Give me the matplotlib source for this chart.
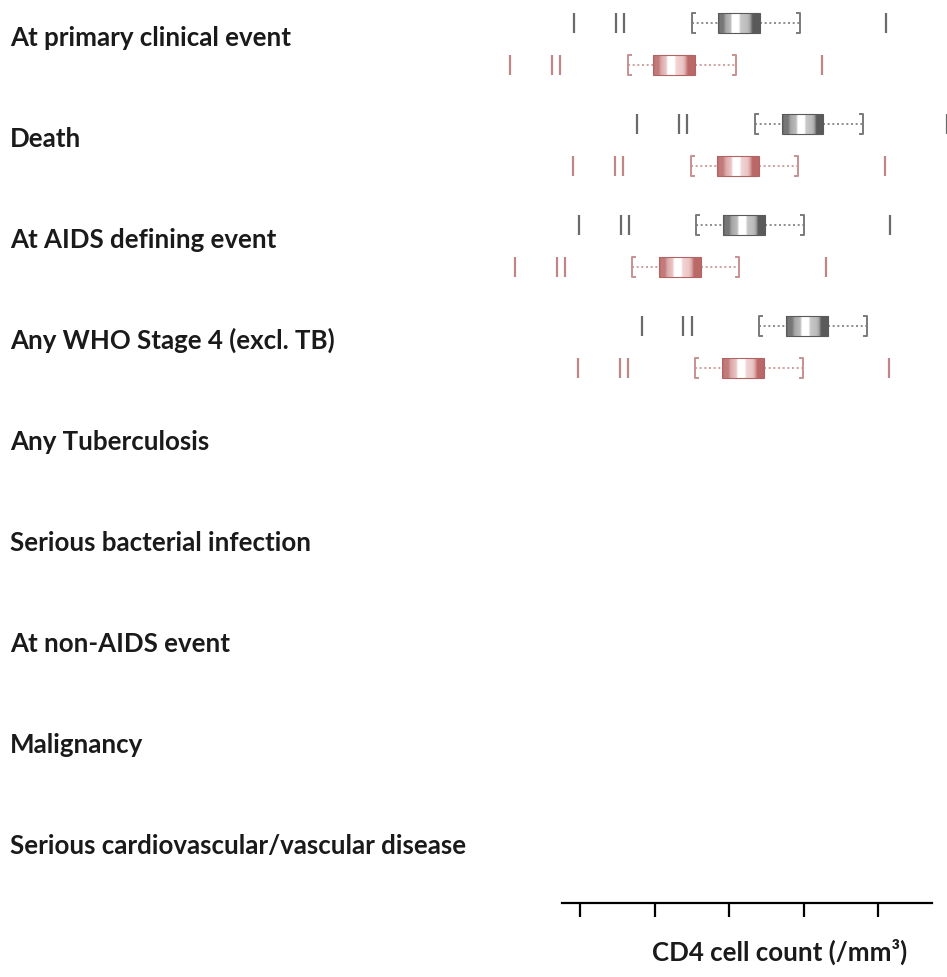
import numpy as np
import matplotlib
matplotlib.use("Agg")
import matplotlib.pyplot as plt
from matplotlib.colors import LinearSegmentedColormap
from matplotlib.patches import Rectangle

categories = [
    "At primary clinical event",
    "Death",
    "At AIDS defining event",
    "Any WHO Stage 4 (excl. TB)",
    "Any Tuberculosis",
    "Serious bacterial infection",
    "At non-AIDS event",
    "Malignancy",
    "Serious cardiovascular/vascular disease",
]

x_ticks = [0, 100, 200, 300, 400]
x_label = "CD4 cell count (/mm³)"

# grey series (upper row of each pair)
grey_low_tick = [-8, 77, -1, 83]
grey_dbl1 = [48, 133, 55, 138]
grey_dbl2 = [59, 144, 66, 150]
grey_whisk_lo = [150, 235, 156, 240]
grey_q1 = [185, 271, 192, 277]
grey_med = [208, 297, 218, 303]
grey_q3 = [241, 326, 248, 333]
grey_whisk_hi = [295, 380, 301, 385]
grey_high_tick = [411, 492, 416, 500]

# red series (lower row of each pair)
red_low_tick = [-94, -9, -87, -3]
red_dbl1 = [-38, 47, -31, 54]
red_dbl2 = [-27, 58, -20, 64]
red_whisk_lo = [64, 149, 70, 154]
red_q1 = [98, 184, 106, 191]
red_med = [122, 210, 131, 217]
red_q3 = [154, 240, 162, 247]
red_whisk_hi = [209, 293, 213, 299]
red_high_tick = [325, 409, 330, 415]

W, H = 947, 978
fig = plt.figure(figsize=(W / 100, H / 100), dpi=100)
ax = fig.add_axes([0, 0, 1, 1])
ax.set_facecolor("white")

# pixel -> data mapping
px0, scale = 580.0, 0.745
ax.set_xlim((0 - px0) / scale, (W - px0) / scale)
row0, rowstep = 38.0, 101.0
ax.set_ylim((H - row0) / rowstep, (0 - row0) / rowstep)

FONT = "Lato"
FS = 18.6

half = 0.098
serif = 4.0


def make_cmap(c_edge, c_dark, c_mid, c_light, c_pale, c_dark2):
    return LinearSegmentedColormap.from_list(
        "g",
        [(0.0, c_edge), (0.04, c_dark), (0.14, c_dark), (0.2, c_mid), (0.33, c_light),
         (0.37, "#ffffff"), (0.53, "#ffffff"), (0.57, c_pale), (0.72, c_light),
         (0.78, c_mid), (0.84, c_dark2), (1.0, c_dark2)],
    )


def draw_series(yoff, low, d1, d2, wl, q1, med, q3, wh, high, tick_c, brk_c, cmap, edge_c):
    for i in range(len(low)):
        y = i + yoff
        for xv in (low[i], d1[i], d2[i], high[i]):
            ax.plot([xv, xv], [y - half, y + half], color=tick_c, lw=1.6,
                    solid_capstyle="butt", zorder=3)
        # brackets
        ax.plot([wl[i] + serif, wl[i], wl[i], wl[i] + serif],
                [y - half, y - half, y + half, y + half], color=brk_c, lw=1.4, zorder=3)
        ax.plot([wh[i] - serif, wh[i], wh[i], wh[i] - serif],
                [y - half, y - half, y + half, y + half], color=brk_c, lw=1.4, zorder=3)
        # dotted whiskers
        ax.plot([wl[i], q1[i]], [y, y], color=brk_c, lw=1.2, ls=(0, (1.2, 1.6)), zorder=2)
        ax.plot([q3[i], wh[i]], [y, y], color=brk_c, lw=1.2, ls=(0, (1.2, 1.6)), zorder=2)
        # gradient box, white stripe at median
        w = q3[i] - q1[i]
        frac_med = (med[i] - q1[i]) / w
        xs = np.linspace(0, 1, 300)
        prof = np.interp(xs, [0, frac_med, 1], [0, 0.45, 1])
        ax.imshow(prof[None, :], cmap=cmap, vmin=0, vmax=1, aspect="auto",
                  extent=(q1[i], q3[i], y + half, y - half),
                  interpolation="bilinear", zorder=4)
        ax.add_patch(Rectangle((q1[i], y - half), w, 2 * half, fill=False,
                               edgecolor=edge_c, lw=0.8, zorder=5))


draw_series(-0.14, grey_low_tick, grey_dbl1, grey_dbl2, grey_whisk_lo, grey_q1, grey_med,
            grey_q3, grey_whisk_hi, grey_high_tick, "#6a6a6a", "#7a7a7a",
            make_cmap("#444444", "#777777", "#a6a6a6", "#bcbcbc", "#c8c8c8", "#5a5a5a"),
            "#5a5a5a")
draw_series(0.28, red_low_tick, red_dbl1, red_dbl2, red_whisk_lo, red_q1, red_med,
            red_q3, red_whisk_hi, red_high_tick, "#c08585", "#c89090",
            make_cmap("#a85050", "#c27a7a", "#dba8a8", "#ecc6c6", "#f2d4d4", "#bb6868"),
            "#b06464")

# category labels
for i, lab in enumerate(categories):
    ax.text((10 - px0) / scale, i + 0.08, lab, ha="left", va="baseline",
            fontsize=FS, fontweight="bold", family=FONT, color="#1a1a1a")

# axis
for s in ("top", "left", "right"):
    ax.spines[s].set_visible(False)
ax.spines["bottom"].set_position(("data", (904 - row0) / rowstep))
ax.spines["bottom"].set_bounds((562 - px0) / scale, (932 - px0) / scale)
ax.spines["bottom"].set_linewidth(1.6)
ax.set_xticks(x_ticks)
ax.set_xticklabels([""] * len(x_ticks))
ax.tick_params(axis="x", direction="out", length=10, width=1.6, color="black")
ax.set_yticks([])

fig.text(652 / W, 1 - 961 / H, x_label, ha="left", va="baseline", fontsize=FS,
         fontweight="bold", family=FONT, color="#1a1a1a")

fig.savefig("out.png", dpi=100, facecolor="white")
